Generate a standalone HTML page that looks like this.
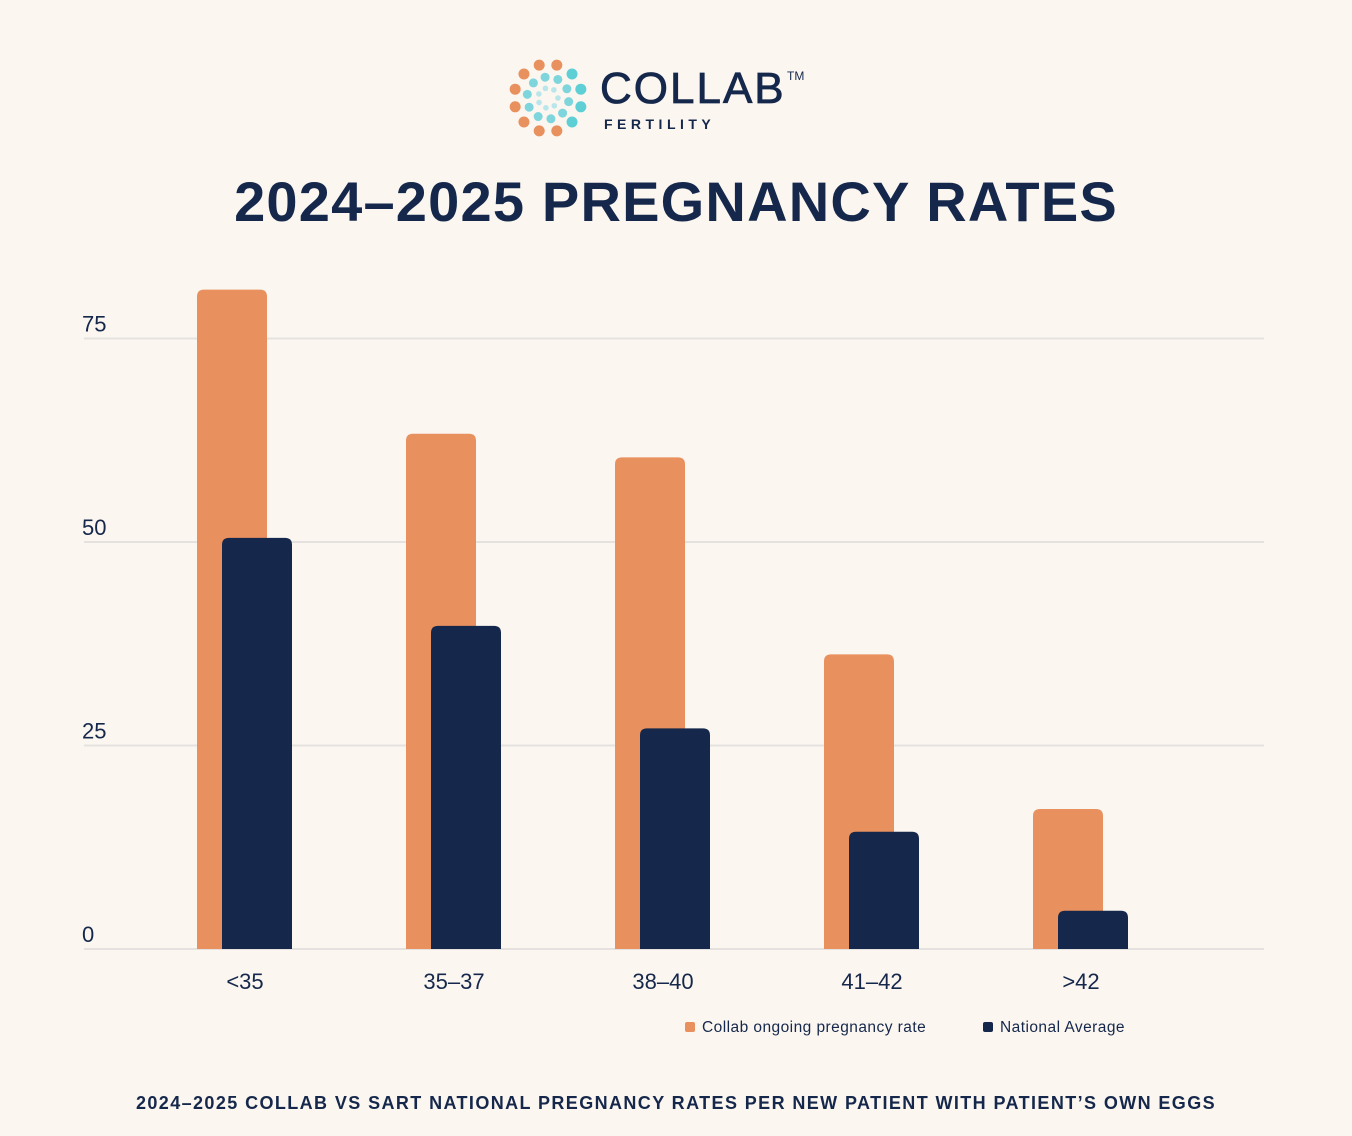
<!DOCTYPE html>
<html><head><meta charset="utf-8"><style>
body{margin:0;background:#fbf6f0;font-family:"Liberation Sans",sans-serif;}
#wrap{position:relative;width:1352px;height:1136px;overflow:hidden;background:#fbf6f0;}
</style></head><body>
<div id="wrap">
<svg width="1352" height="1136">
<g id="logo"></g>
<text x="600" y="103" font-size="44" fill="#15284b" font-family="Liberation Sans" letter-spacing="2" stroke="#15284b" stroke-width="0.8">COLLAB</text>
<text x="787" y="80" font-size="12" fill="#15284b">TM</text>
<text x="604" y="129" font-size="14" font-weight="bold" fill="#15284b" letter-spacing="4.5">FERTILITY</text>
<text x="676" y="221" text-anchor="middle" font-size="56" font-weight="bold" fill="#15284b" letter-spacing="1.2">2024–2025 PREGNANCY RATES</text>
<g id="grid"></g><g id="bars"></g><g id="xlabels"></g>
<rect x="685" y="1022" width="10" height="10" rx="2" fill="#e8905e"/>
<text x="702" y="1032" font-size="15.5" letter-spacing="0.45" fill="#15284b">Collab ongoing pregnancy rate</text>
<rect x="983" y="1022" width="10" height="10" rx="2" fill="#15284b"/>
<text x="1000" y="1032" font-size="15.5" letter-spacing="0.45" fill="#15284b">National Average</text>
<text x="676" y="1109" text-anchor="middle" font-size="18" font-weight="bold" fill="#15284b" letter-spacing="1.4">2024–2025 COLLAB VS SART NATIONAL PREGNANCY RATES PER NEW PATIENT WITH PATIENT’S OWN EGGS</text>
</svg>
</div>
<script>
const categories=["<35","35–37","38–40","41–42",">42"];
const collab=[81,63.3,60.4,36.2,17.2];
const national=[50.5,39.7,27.1,14.4,4.7];
const ticks=[0,25,50,75];
const NS="http://www.w3.org/2000/svg";
function y(v){return 949-v*8.14;}
function xc(i){return 245+i*209;}
function mk(tag,attrs,parent){const e=document.createElementNS(NS,tag);for(const k in attrs)e.setAttribute(k,attrs[k]);parent.appendChild(e);return e;}
const grid=document.getElementById('grid');
ticks.forEach(t=>{
 const l=mk('line',{x1:84,x2:1264,y1:y(t),y2:y(t),stroke:'#e4e1de','stroke-width':2},grid);
 
 
 const tx=mk('text',{x:82,y:y(t)-7,'font-size':22,fill:'#15284b'},grid);
 tx.textContent=t;
 
 
});
const bars=document.getElementById('bars');
function bar(x,v,color){
 const top=y(v),bot=949,w=70,r=7;
 return mk('path',{d:`M${x},${bot}V${top+r}Q${x},${top} ${x+r},${top}H${x+w-r}Q${x+w},${top} ${x+w},${top+r}V${bot}Z`,fill:color},bars);
}
categories.forEach((c,i)=>{
 const b1=bar(xc(i)-48,collab[i],'#e8905e');
 
 
 const b2=bar(xc(i)-23,national[i],'#15284b');
 
 
 const t=mk('text',{x:xc(i),y:989,'text-anchor':'middle','font-size':22,fill:'#15284b'},document.getElementById('xlabels'));
 t.textContent=c;
 
 
});
const logo=document.getElementById('logo');
const cx=548,cy=98;
for(let k=0;k<12;k++){
 const a=(k*30+15)*Math.PI/180;
 const col=Math.cos(a)>0.3?'#5fcfd6':'#e8905e';
 const d=mk('circle',{cx:cx+34*Math.cos(a),cy:cy+34*Math.sin(a),r:5.5,fill:col},logo);
 
 
}
for(let k=0;k<10;k++){
 const a=(k*36+10)*Math.PI/180;
 const d=mk('circle',{cx:cx+21*Math.cos(a),cy:cy+21*Math.sin(a),r:4.5,fill:'#7fd5dc'},logo);
 
 
}
for(let k=0;k<7;k++){
 const a=(k*51)*Math.PI/180;
 const d=mk('circle',{cx:cx+10*Math.cos(a),cy:cy+10*Math.sin(a),r:2.8,fill:'#b8e6ea'},logo);
 
 
}
</script>
</body></html>
